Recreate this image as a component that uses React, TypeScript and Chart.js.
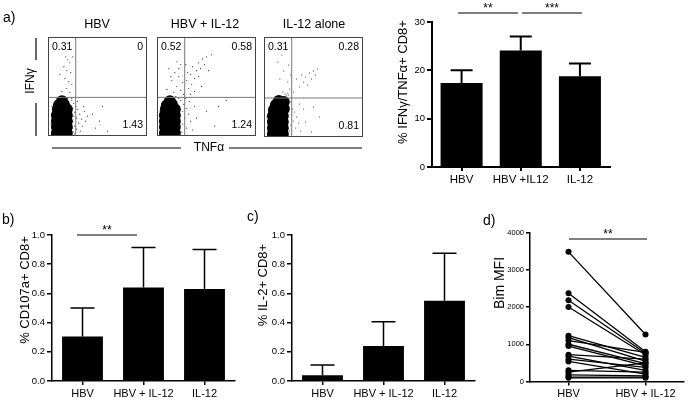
import React, { useEffect, useRef } from "react";
import { Chart, registerables } from "chart.js";
Chart.register(...registerables);

const W = 688;
const H = 400;
const FONT = "'Liberation Sans', Arial, Helvetica, sans-serif";
Chart.defaults.font.family = FONT;
Chart.defaults.color = "#000";

// ---------------- data ----------------
// a) flow cytometry plots (TNFα on x, IFNγ on y, 0-100 display units)
const flowTitles = ["HBV", "HBV + IL-12", "IL-12 alone"];
const flowUL = ["0.31", "0.52", "0.31"];
const flowUR = ["0", "0.58", "0.28"];
const flowLR = ["1.43", "1.24", "0.81"];
const flowGateX = 28;
const flowGateY = 39;

const flow1Core = [[9,3],[14,3],[19,3],[9,9],[14,9],[19,9],[9,15],[14,15],[19,15],[9,21],[14,21],[19,21],[10,27],[15,27],[19,27],[11,31],[16,32],[14,35]];
const flow1Events = [
  [18,80],[20,77],[22,74],[16,70],[19,66],[23,64],[17,58],[21,55],[24,52],[19,48],[14,45],[22,44],[25,80],[12,62],
  [24,36],[26,33],[28,30],[25,28],[30,27],[27,24],[32,22],[26,20],[29,18],[34,17],[25,15],[31,13],[27,10],[35,10],[29,7],[33,5],[26,4],[37,25],[38,15],[30,35],[24,38],[36,30],[40,20],
  [45,22],[52,15],[60,5],[55,30],[48,8],[10,37],[8,36],[20,38],[17,40],[4,30],[3,12],[25,8],[27,2]
];
const flow2Core = [[8,3],[13,3],[18,3],[8,9],[13,9],[18,9],[8,15],[13,15],[18,15],[8,21],[13,21],[18,21],[9,27],[14,27],[18,27],[10,31],[15,32],[13,35]];
const flow2Events = [
  [20,75],[24,72],[12,68],[18,64],[22,60],[15,56],[26,54],[20,50],[10,47],[24,46],[17,44],[27,42],[22,68],[14,60],
  [32,48],[35,52],[30,56],[38,58],[34,62],[40,66],[36,70],[42,74],[46,78],[50,80],[44,68],[48,72],[38,45],[55,82],[31,64],[42,60],[34,42],[29,72],[45,50],[52,66],
  [24,36],[27,32],[30,28],[26,25],[32,22],[28,18],[34,15],[26,12],[30,8],[36,6],[25,4],[38,30],[40,18],[29,38],[33,35],
  [50,25],[62,30],[70,36],[58,10],[3,25],[4,8],[22,38],[19,40]
];
const flow3Core = [[9,3],[14,3],[19,3],[9,9],[14,9],[19,9],[9,15],[14,15],[19,15],[9,21],[14,21],[19,21],[10,27],[15,27],[20,28],[12,32],[17,33],[15,36],[20,35]];
const flow3Events = [
  [22,90],[18,82],[14,75],[25,72],[20,66],[16,58],[24,55],[26,48],[19,45],[23,42],[27,62],
  [33,58],[38,62],[42,60],[46,64],[50,66],[54,68],[48,58],[40,55],[36,50],[30,45],[44,52],[52,62],
  [24,38],[27,35],[26,30],[29,28],[31,25],[28,22],[33,20],[30,16],[35,14],[27,12],[32,9],[37,6],[26,6],[40,28],[42,15],[36,33],[25,42],[22,40],
  [50,30],[56,20],[48,5],[3,20],[4,6],[24,44],[21,43]
];

// a) bar chart
const aCategories = ["HBV", "HBV +IL12", "IL-12"];
const aMean = [17.4, 24.1, 18.8];
const aSem = [2.6, 2.9, 2.6];

// b) CD107a
const bCategories = ["HBV", "HBV + IL-12", "IL-12"];
const bMean = [0.305, 0.64, 0.63];
const bSem = [0.195, 0.275, 0.27];

// c) IL-2
const cCategories = ["HBV", "HBV + IL-12", "IL-12"];
const cMean = [0.04, 0.24, 0.55];
const cSem = [0.07, 0.165, 0.325];

// d) Bim MFI, paired
const dCategories = ["HBV", "HBV + IL-12"];
const dHBV = [3480, 2370, 2180, 2000, 1230, 1180, 1100, 1000, 950, 720, 680, 600, 540, 300, 250, 180, 120, 100];
const dHBVIL12 = [1260, 800, 760, 720, 650, 550, 780, 480, 420, 600, 300, 380, 200, 250, 500, 150, 120, 100];

// ---------------- layout ----------------
type Box = { l: number; t: number; r: number; b: number };
const FLOW_BOX: Box[] = [
  { l: 48, t: 37, r: 147, b: 136 },
  { l: 157, t: 37, r: 256, b: 136 },
  { l: 264, t: 37, r: 363, b: 137 },
];

type Deco =
  | { kind: "text"; x: number; y: number; text: string; size: number; align?: CanvasTextAlign; rot?: boolean; base?: CanvasTextBaseline }
  | { kind: "line"; x1: number; y1: number; x2: number; y2: number; w?: number; color?: string };

const decorPlugin = (id: string, items: Deco[]) => ({
  id,
  afterDraw(chart: any) {
    const ctx: CanvasRenderingContext2D = chart.ctx;
    ctx.save();
    for (const it of items) {
      if (it.kind === "line") {
        ctx.strokeStyle = it.color || "#000";
        ctx.lineWidth = it.w || 1.2;
        ctx.beginPath();
        ctx.moveTo(it.x1, it.y1);
        ctx.lineTo(it.x2, it.y2);
        ctx.stroke();
      } else {
        ctx.fillStyle = "#000";
        ctx.font = `${it.size}px ${FONT}`;
        ctx.textAlign = it.align || "center";
        ctx.textBaseline = it.base || "middle";
        if (it.rot) {
          ctx.save();
          ctx.translate(it.x, it.y);
          ctx.rotate(-Math.PI / 2);
          ctx.fillText(it.text, 0, 0);
          ctx.restore();
        } else {
          ctx.fillText(it.text, it.x, it.y);
        }
      }
    }
    ctx.restore();
  },
});

const errorBarPlugin = (sem: number[], cap: number, lw: number) => ({
  id: "errorBars",
  afterDatasetsDraw(chart: any) {
    const meta = chart.getDatasetMeta(0);
    const ys = chart.scales.y;
    const ctx: CanvasRenderingContext2D = chart.ctx;
    ctx.save();
    ctx.strokeStyle = "#000";
    ctx.lineWidth = lw;
    meta.data.forEach((bar: any, i: number) => {
      const v = chart.data.datasets[0].data[i] as number;
      const top = ys.getPixelForValue(v + sem[i]);
      ctx.beginPath();
      ctx.moveTo(bar.x, bar.y);
      ctx.lineTo(bar.x, top);
      ctx.moveTo(bar.x - cap / 2, top);
      ctx.lineTo(bar.x + cap / 2, top);
      ctx.stroke();
    });
    ctx.restore();
  },
});

const flowFramePlugin = (idx: number) => ({
  id: "flowFrame" + idx,
  afterDraw(chart: any) {
    const ctx: CanvasRenderingContext2D = chart.ctx;
    const a = chart.chartArea;
    const gx = chart.scales.x.getPixelForValue(flowGateX);
    const gy = chart.scales.y.getPixelForValue(flowGateY);
    ctx.save();
    ctx.strokeStyle = "#777";
    ctx.lineWidth = 1;
    ctx.beginPath();
    ctx.moveTo(gx, a.top);
    ctx.lineTo(gx, a.bottom);
    ctx.moveTo(a.left, gy);
    ctx.lineTo(a.right, gy);
    ctx.stroke();
    ctx.strokeStyle = "#444";
    ctx.strokeRect(a.left + 0.5, a.top + 0.5, a.right - a.left - 1, a.bottom - a.top - 1);
    ctx.fillStyle = "#000";
    ctx.font = `10.5px ${FONT}`;
    ctx.textBaseline = "middle";
    ctx.textAlign = "left";
    ctx.fillText(flowUL[idx], a.left + 4, a.top + 10);
    ctx.textAlign = "right";
    ctx.fillText(flowUR[idx], a.right - 4, a.top + 10);
    ctx.fillText(flowLR[idx], a.right - 4, a.bottom - 11);
    ctx.restore();
  },
});

function flowConfig(idx: number, core: number[][], events: number[][]): any {
  const box = FLOW_BOX[idx];
  return {
    type: "scatter",
    data: {
      datasets: [
        { data: core.map(([x, y]) => ({ x, y })), pointRadius: 6, pointBackgroundColor: "#000", pointBorderWidth: 0, clip: 0 },
        { data: events.map(([x, y]) => ({ x, y })), pointRadius: 0.6, pointBackgroundColor: "#333", pointBorderWidth: 0, clip: 0 },
      ],
    },
    options: {
      responsive: false,
      animation: false,
      devicePixelRatio: 1,
      events: [],
      layout: { padding: { left: box.l, top: box.t, right: W - box.r, bottom: H - box.b } },
      plugins: { legend: { display: false }, tooltip: { enabled: false } },
      scales: {
        x: { type: "linear", min: 0, max: 100, display: false },
        y: { type: "linear", min: 0, max: 100, display: false },
      },
    },
    plugins: [flowFramePlugin(idx)],
  };
}

function axisStyle(lw: number, tickLen: number) {
  return {
    grid: { display: true, drawOnChartArea: false, drawTicks: true, tickLength: tickLen, color: "#000", lineWidth: lw, offset: false },
    border: { display: true, color: "#000", width: lw },
  };
}

type BarOpts = {
  labels: string[]; mean: number[]; sem: number[]; box: Box; yw: number; xh: number;
  max: number; step: number; decimals: number; tickSize: number; labelSize: number;
  barPct: number; cap: number; errW: number; lw: number; extra: any[];
};

function barConfig(o: BarOpts): any {
  return {
    type: "bar",
    data: {
      labels: o.labels,
      datasets: [{ data: o.mean, backgroundColor: "#000", borderWidth: 0, barPercentage: o.barPct, categoryPercentage: 1 }],
    },
    options: {
      responsive: false,
      animation: false,
      devicePixelRatio: 1,
      events: [],
      layout: { padding: { left: o.box.l - o.yw, top: o.box.t, right: W - o.box.r, bottom: H - o.box.b - o.xh } },
      plugins: { legend: { display: false }, tooltip: { enabled: false } },
      scales: {
        x: {
          ...axisStyle(o.lw, 4),
          ticks: { color: "#000", font: { size: o.labelSize }, padding: 2, maxRotation: 0, autoSkip: false },
          afterFit: (s: any) => { s.height = o.xh; },
        },
        y: {
          ...axisStyle(o.lw, 5),
          min: 0,
          max: o.max,
          ticks: { stepSize: o.step, color: "#000", font: { size: o.tickSize }, padding: 2, callback: (v: any) => Number(v).toFixed(o.decimals) },
          afterFit: (s: any) => { s.width = o.yw; },
        },
      },
    },
    plugins: [errorBarPlugin(o.sem, o.cap, o.errW), ...o.extra],
  };
}

function pairedConfig(): any {
  const box: Box = { l: 530, t: 232.5, r: 684, b: 381.5 };
  const yw = 35;
  const xh = 18;
  return {
    type: "line",
    data: {
      labels: dCategories,
      datasets: dHBV.map((v, i) => ({
        data: [v, dHBVIL12[i]],
        borderColor: "#000",
        borderWidth: 1.3,
        pointRadius: 3,
        pointBackgroundColor: "#000",
        pointBorderWidth: 0,
        clip: false,
      })),
    },
    options: {
      responsive: false,
      animation: false,
      devicePixelRatio: 1,
      events: [],
      layout: { padding: { left: box.l - yw, top: box.t, right: W - box.r, bottom: H - box.b - xh } },
      plugins: { legend: { display: false }, tooltip: { enabled: false } },
      scales: {
        x: {
          type: "category",
          offset: true,
          ...axisStyle(1.5, 4),
          ticks: { color: "#000", font: { size: 11 }, padding: 2, maxRotation: 0, autoSkip: false },
          afterFit: (s: any) => { s.height = xh; },
        },
        y: {
          ...axisStyle(1.5, 4),
          min: 0,
          max: 4000,
          ticks: { stepSize: 1000, color: "#000", font: { size: 7.5 }, padding: 2, callback: (v: any) => String(Math.round(Number(v))) },
          afterFit: (s: any) => { s.width = yw; },
        },
      },
    },
    plugins: [
      decorPlugin("dDecor", [
        { kind: "text", x: 483, y: 221, text: "d)", size: 14, align: "left" },
        { kind: "text", x: 500, y: 283, text: "Bim MFI", size: 14, rot: true },
        { kind: "line", x1: 569, y1: 239, x2: 647, y2: 239, w: 1.2 },
        { kind: "text", x: 608, y: 238, text: "**", size: 12, base: "alphabetic" },
      ]),
    ],
  };
}

const panelADecor: Deco[] = [
  { kind: "text", x: 3, y: 18, text: "a)", size: 14, align: "left" },
  { kind: "text", x: 97, y: 25, text: flowTitles[0], size: 12.5 },
  { kind: "text", x: 205, y: 25, text: flowTitles[1], size: 12.5 },
  { kind: "text", x: 314, y: 25, text: flowTitles[2], size: 12.5 },
  { kind: "text", x: 31, y: 81, text: "IFNγ", size: 12, rot: true },
  { kind: "line", x1: 36, y1: 38, x2: 36, y2: 60, w: 1.2 },
  { kind: "line", x1: 36, y1: 103, x2: 36, y2: 136, w: 1.2 },
  { kind: "line", x1: 52, y1: 148, x2: 181, y2: 148, w: 1.2 },
  { kind: "text", x: 209, y: 148, text: "TNFα", size: 12 },
  { kind: "line", x1: 229, y1: 148, x2: 362, y2: 148, w: 1.2 },
];

export default function App() {
  const refs = useRef<(HTMLCanvasElement | null)[]>([]);
  useEffect(() => {
    const f1 = flowConfig(0, flow1Core, flow1Events);
    f1.plugins.push(decorPlugin("aDecor", panelADecor));
    const configs: any[] = [
      f1,
      flowConfig(1, flow2Core, flow2Events),
      flowConfig(2, flow3Core, flow3Events),
      barConfig({
        labels: aCategories, mean: aMean, sem: aSem, box: { l: 432, t: 22, r: 609.5, b: 167 }, yw: 40, xh: 20,
        max: 30, step: 10, decimals: 0, tickSize: 9.5, labelSize: 11.5, barPct: 0.71, cap: 22, errW: 2, lw: 2,
        extra: [decorPlugin("aBarDecor", [
          { kind: "text", x: 403, y: 82, text: "% IFNγ/TNFα+ CD8+", size: 13, rot: true },
          { kind: "line", x1: 458, y1: 13, x2: 518, y2: 13, w: 1.2 },
          { kind: "text", x: 488, y: 12, text: "**", size: 12, base: "alphabetic" },
          { kind: "line", x1: 522, y1: 13, x2: 582, y2: 13, w: 1.2 },
          { kind: "text", x: 552, y: 12, text: "***", size: 12, base: "alphabetic" },
        ])],
      }),
      barConfig({
        labels: bCategories, mean: bMean, sem: bSem, box: { l: 52, t: 235, r: 235, b: 381 }, yw: 40, xh: 19,
        max: 1, step: 0.2, decimals: 1, tickSize: 9.5, labelSize: 11, barPct: 0.67, cap: 24, errW: 1.5, lw: 1.5,
        extra: [decorPlugin("bDecor", [
          { kind: "text", x: 2, y: 220, text: "b)", size: 14, align: "left" },
          { kind: "text", x: 25, y: 290, text: "% CD107a+ CD8+", size: 13, rot: true },
          { kind: "line", x1: 77, y1: 235, x2: 137, y2: 235, w: 1.2 },
          { kind: "text", x: 107, y: 234, text: "**", size: 12, base: "alphabetic" },
        ])],
      }),
      barConfig({
        labels: cCategories, mean: cMean, sem: cSem, box: { l: 292, t: 235, r: 475, b: 381 }, yw: 40, xh: 19,
        max: 1, step: 0.2, decimals: 1, tickSize: 9.5, labelSize: 11, barPct: 0.67, cap: 24, errW: 1.5, lw: 1.5,
        extra: [decorPlugin("cDecor", [
          { kind: "text", x: 247, y: 217, text: "c)", size: 14, align: "left" },
          { kind: "text", x: 263, y: 285, text: "% IL-2+ CD8+", size: 13, rot: true },
        ])],
      }),
      pairedConfig(),
    ];
    const charts = configs.map((cfg, i) => new Chart(refs.current[i] as HTMLCanvasElement, cfg));
    return () => charts.forEach((c) => c.destroy());
  }, []);

  return (
    <div style={{ position: "absolute", left: 0, top: 0, width: W, height: H, background: "#fff", overflow: "hidden" }}>
      {Array.from({ length: 7 }).map((_, i) => (
        <canvas
          key={i}
          ref={(el) => { refs.current[i] = el; }}
          width={W}
          height={H}
          style={{ position: "absolute", left: 0, top: 0, width: W, height: H }}
        />
      ))}
    </div>
  );
}
